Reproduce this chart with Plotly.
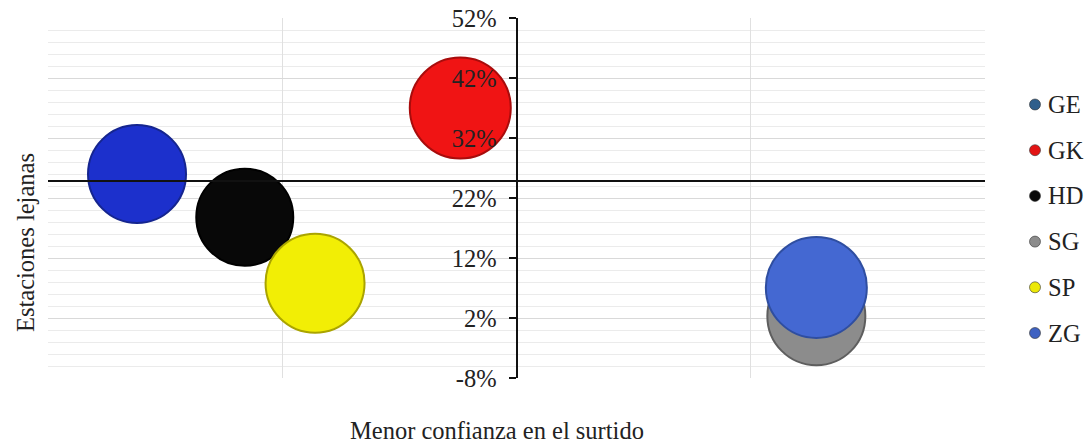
import plotly.graph_objects as go

# ---- data ----
series = ["GE", "GK", "HD", "SG", "SP", "ZG"]
x_vals = [-0.81, -0.12, -0.58, 0.64, -0.43, 0.64]          # Menor confianza en el surtido
y_vals = [26.0, 37.0, 18.8, 2.3, 7.8, 7.1]                 # Estaciones lejanas (%)
sizes = [98, 101, 97, 98, 99, 101]                        # bubble size
bubble_colors = ["#1c30cc", "#f01414", "#080808", "#8c8c8c", "#f2ee05", "#4468d2"]
edge_colors = ["#15258f", "#a80c0c", "#000000", "#5e5e5e", "#aaa400", "#2f4ea0"]
legend_colors = ["#2f5f8c", "#e31414", "#0a0a0a", "#8c8c8c", "#ece808", "#3f62c2"]
y_ticks = [-8, 2, 12, 22, 32, 42, 52]

SERIF = "Liberation Serif, Times New Roman, serif"
FS = 24.5

W, H = 1090, 444
L, T, PW, PH = 48, 18, 937, 360


def px_x(win_x):
    return (win_x - L) / PW


def px_y(win_y):
    return (T + PH - win_y) / PH


fig = go.Figure()

for i, name in enumerate(series):
    fig.add_trace(go.Scatter(
        x=[x_vals[i]], y=[y_vals[i]], mode="markers", name=name,
        showlegend=False, hoverinfo="name+y",
        marker=dict(size=[sizes[i]], sizemode="diameter", sizeref=1,
                    color=bubble_colors[i],
                    line=dict(color=edge_colors[i], width=2), opacity=1),
    ))

# legend drawn as circles + text (Excel-style compact legend)
shapes = []
annotations = []
for i, name in enumerate(series):
    cy = 104.5 + i * 45.7
    r = 5.5
    shapes.append(dict(type="circle", xref="paper", yref="paper",
                       x0=px_x(1035 - r), x1=px_x(1035 + r),
                       y0=px_y(cy + r), y1=px_y(cy - r),
                       fillcolor=legend_colors[i], line=dict(color="#333333", width=0.6)))
    annotations.append(dict(text=name, xref="paper", yref="paper",
                            x=px_x(1046), y=px_y(cy), xanchor="left", yanchor="middle",
                            showarrow=False,
                            font=dict(family=SERIF, size=FS, color="#222222")))

annotations += [
    dict(text="Estaciones lejanas", xref="paper", yref="paper",
         x=px_x(25), y=px_y(243), textangle=-90,
         showarrow=False, xanchor="center", yanchor="middle",
         font=dict(family=SERIF, size=FS, color="#222222")),
    dict(text="Menor confianza en el surtido", xref="paper", yref="paper",
         x=px_x(497), y=px_y(430),
         showarrow=False, xanchor="center", yanchor="middle",
         font=dict(family=SERIF, size=FS, color="#222222")),
]

fig.update_layout(
    width=W, height=H,
    margin=dict(l=L, r=W - L - PW, t=T, b=H - T - PH, autoexpand=False),
    paper_bgcolor="white", plot_bgcolor="white",
    font=dict(family=SERIF, size=FS, color="#222222"),
    showlegend=False,
    xaxis=dict(range=[-1, 1], dtick=0.5, tick0=-1, showticklabels=False,
               showgrid=True, gridcolor="#e0e0e0", gridwidth=1,
               zeroline=False, showline=True, linecolor="#111111", linewidth=2,
               anchor="free", position=(24.8 + 8) / 60, ticks=""),
    yaxis=dict(range=[-8, 52], tickvals=y_ticks, ticktext=[f"{v}%" for v in y_ticks],
               showgrid=True, gridcolor="#d9d9d9", gridwidth=1.2,
               minor=dict(dtick=2, tick0=-8, showgrid=True, gridcolor="#ebebeb", gridwidth=1),
               zeroline=False, showline=True, linecolor="#111111", linewidth=2,
               ticks="outside", ticklen=7, tickwidth=2, tickcolor="#111111",
               ticklabelstandoff=7, ticklabeloverflow="allow",
               anchor="free", position=0.5,
               tickfont=dict(family=SERIF, size=FS, color="#222222")),
    shapes=shapes,
    annotations=annotations,
)

# remove the browser's default 8px body margin so the figure fills the window
fig.write_html("out.html", config={"displayModeBar": False},
               post_script="document.body.style.margin='0';")
